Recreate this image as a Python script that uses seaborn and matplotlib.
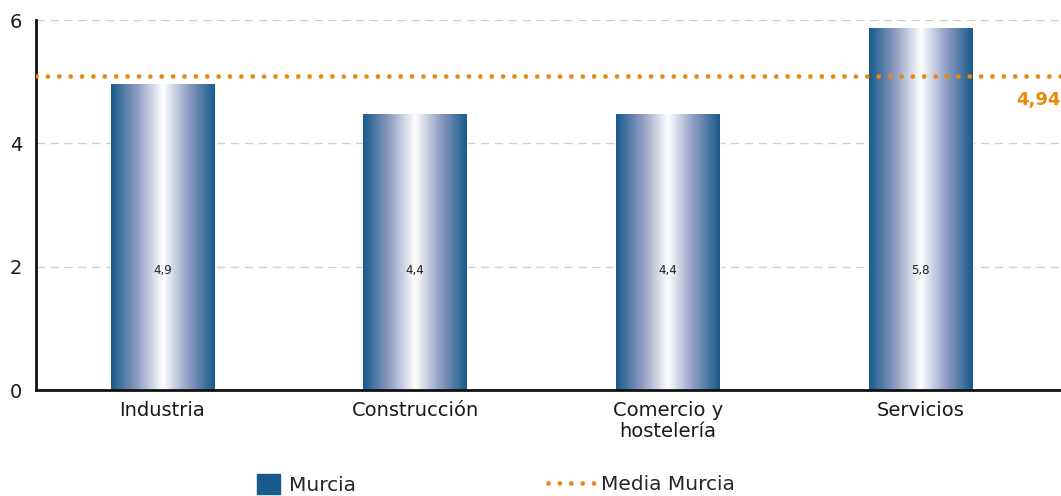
import numpy as np
import pandas as pd
import matplotlib
matplotlib.use("Agg")
import matplotlib.pyplot as plt
import seaborn as sns
from matplotlib.colors import LinearSegmentedColormap
from matplotlib.patches import Patch
from matplotlib.lines import Line2D

# data
sectores = ["Industria", "Construcción", "Comercio y\nhostelería", "Servicios"]
valores = [4.96, 4.46, 4.46, 5.87]
etiquetas = ["4,9", "4,4", "4,4", "5,8"]
media = 5.09
media_txt = "4,94"

azul = "#175b8c"
naranja = "#e8890c"

sns.set_style("white")
plt.rcParams["font.family"] = ["DejaVu Sans"]

df = pd.DataFrame({"sector": sectores, "valor": valores})

fig = plt.figure(figsize=(10.61, 4.96), dpi=100)
ax = fig.add_axes([36 / 1061, 106 / 496, 1025 / 1061, 370 / 496])

sns.barplot(data=df, x="sector", y="valor", color=azul, width=0.41,
            saturation=1, ax=ax, zorder=2)

# cylinder-like gradient on each bar
cmap = LinearSegmentedColormap.from_list("cil", [azul, "#8d9bc1", "#ffffff", "#8d9bc1", azul])
grad = np.linspace(0, 1, 256).reshape(1, -1)
for p in ax.patches:
    x0, w, h = p.get_x(), p.get_width(), p.get_height()
    ax.imshow(grad, extent=[x0, x0 + w, 0, h], aspect="auto", cmap=cmap,
              interpolation="bilinear", zorder=2.5)

for i, t in enumerate(etiquetas):
    ax.text(i, 1.93, t, ha="center", va="center", fontsize=8.5, color="#222222", zorder=4)

punteado = (0, (0.01, 2.4))
ax.axhline(media, color=naranja, linewidth=3.4, linestyle=punteado,
           dash_capstyle="round", zorder=3)
ax.text(3.555, 4.70, media_txt, ha="right", va="center", fontsize=13,
        fontweight="bold", color=naranja)

ax.set_xlim(-0.5, 3.555)
ax.set_ylim(0, 6)
ax.set_yticks([0, 2, 4, 6])
ax.yaxis.grid(True, linestyle=(0, (6, 4)), color="#d0d0d0", linewidth=1)
ax.set_axisbelow(True)
ax.set_xlabel("")
ax.set_ylabel("")
ax.tick_params(axis="both", labelsize=14, length=0, colors="#1a1a1a")
ax.tick_params(axis="y", pad=10)
ax.tick_params(axis="x", pad=8)
for lab in ax.get_xticklabels():
    lab.set_linespacing(1.1)
for s in ["top", "right"]:
    ax.spines[s].set_visible(False)
for s in ["left", "bottom"]:
    ax.spines[s].set_color("#111111")
    ax.spines[s].set_linewidth(2)

ley1 = fig.legend([Patch(facecolor=azul, edgecolor=azul)], ["Murcia"],
                  loc="lower left", bbox_to_anchor=(257 / 1061, 0.002),
                  frameon=False, fontsize=14.5, handlelength=1.15, handleheight=1.15,
                  handletextpad=0.45, borderpad=0, borderaxespad=0)
ley2 = fig.legend([Line2D([0], [0], color=naranja, linewidth=3.4, linestyle=punteado,
                          dash_capstyle="round")], ["Media Murcia"],
                  loc="lower left", bbox_to_anchor=(548 / 1061, 0.004),
                  frameon=False, fontsize=14.5, handlelength=2.3,
                  handletextpad=0.35, borderpad=0, borderaxespad=0)

fig.savefig("out.png", dpi=100)
